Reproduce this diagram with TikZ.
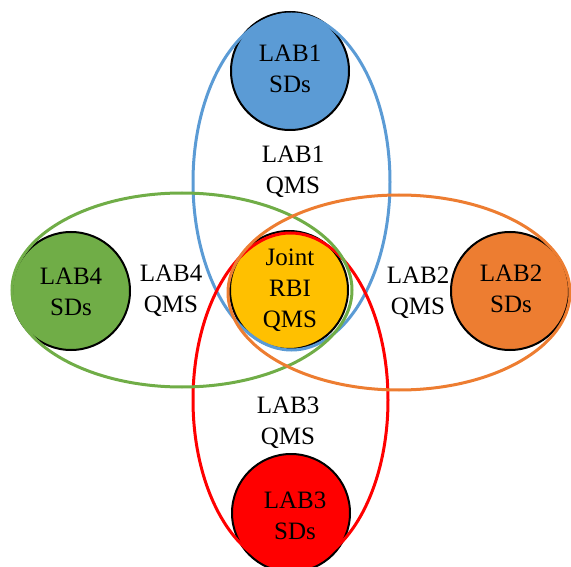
\documentclass[tikz,border=0pt]{standalone}
\usepackage{fontspec}
\setmainfont{Liberation Serif}
\definecolor{cblue}{HTML}{5B9BD5}
\definecolor{corange}{HTML}{ED7D31}
\definecolor{cgreen}{HTML}{70AD47}
\definecolor{cred}{HTML}{FF0000}
\definecolor{cgold}{HTML}{FFC000}
\tikzset{
  sd/.style={circle, draw=black, line width=2pt, minimum size=118pt, inner sep=0pt, align=center, font=\fontsize{25}{31}\selectfont},
  lbl/.style={align=center, inner sep=0pt, font=\fontsize{25}{31}\selectfont},
  ring/.style={line width=3pt}
}
\begin{document}
\begin{tikzpicture}[x=1pt,y=-1pt]
\useasboundingbox (0,0) rectangle (571,567);
% circles
\node[sd, fill=cblue] (lab1) at (290,71) {};
\node[sd, fill=cgreen] (lab4) at (71,291) {};
\node[sd, fill=corange] (lab2) at (510,291) {};
\node[sd, fill=cred] (lab3) at (291,513) {};
\node[sd, fill=cgold] (joint) at (289,290) {};
% ellipses
\draw[ring, cblue] (291.5,182) ellipse [x radius=98.5pt, y radius=168pt];
\draw[ring, cred] (290.5,400) ellipse [x radius=97.5pt, y radius=167pt];
\draw[ring, cgreen] (182,290) ellipse [x radius=170pt, y radius=97pt];
\draw[ring, corange] (399,292.5) ellipse [x radius=171pt, y radius=97.5pt];
% texts
\node[lbl] (t1) at (290,69) {LAB1\\SDs};
\node[lbl] (t4) at (71,292) {LAB4\\SDs};
\node[lbl] (t2) at (511,289) {LAB2\\SDs};
\node[lbl] (t3) at (295,516) {LAB3\\SDs};
\node[lbl] (tj) at (290,290) {Joint\\RBI\\QMS};
\node[lbl] (q1) at (293,172) {LAB1\\QMS};
\node[lbl] (q4) at (171,291) {LAB4\\QMS};
\node[lbl] (q2) at (418,293) {LAB2\\QMS};
\node[lbl] (q3) at (288,423) {LAB3\\QMS};
\end{tikzpicture}
\end{document}
